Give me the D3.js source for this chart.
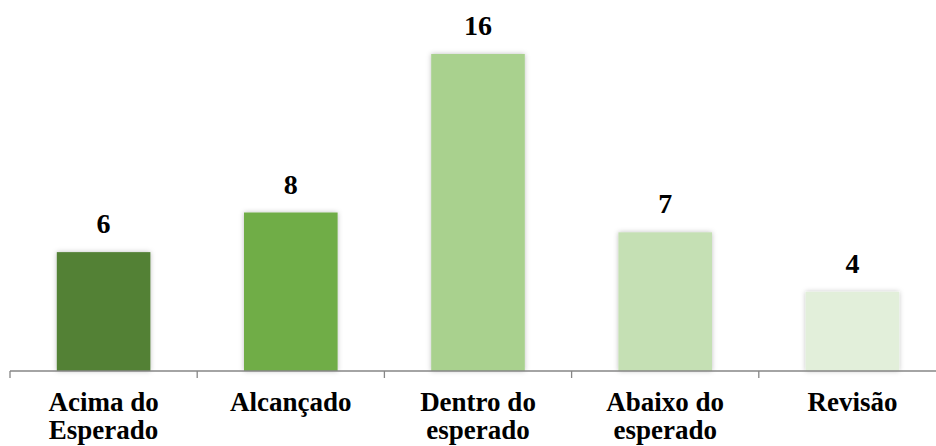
<!DOCTYPE html>
<html>
<head>
<meta charset="utf-8">
<script src="https://cdn.jsdelivr.net/npm/d3@7"></script>
<style>
  body { margin: 0; background: #fff; }
  svg { display: block; }
</style>
</head>
<body>
<script>
// chart data
const categories = ['Acima do|Esperado', 'Alcançado', 'Dentro do|esperado', 'Abaixo do|esperado', 'Revisão'];
const values = [6, 8, 16, 7, 4];
const colors = ['#538135', '#70ad47', '#a9d18e', '#c5e0b4', '#e2efda'];

const width = 936;
const height = 446;
const axisY = 371;
const serif = '"Liberation Serif", "Times New Roman", serif';

const svg = d3.select('body').append('svg')
  .attr('width', width)
  .attr('height', height);

// soft shadow like the office chart
const defs = svg.append('defs');
defs.append('filter')
  .attr('id', 'shadow')
  .attr('x', '-20%').attr('y', '-20%')
  .attr('width', '140%').attr('height', '140%')
  .append('feDropShadow')
  .attr('dx', 0).attr('dy', 0)
  .attr('stdDeviation', 2.5)
  .attr('flood-color', '#000')
  .attr('flood-opacity', 0.25);

const x = d3.scaleBand()
  .domain(categories)
  .range([10, 946])
  .paddingInner(0.5)
  .paddingOuter(0.25);

const y = d3.scaleLinear()
  .domain([0, 16])
  .range([axisY, 54]);

// bars
svg.selectAll('rect.bar')
  .data(values)
  .enter().append('rect')
  .attr('class', 'bar')
  .attr('x', (d, i) => x(categories[i]))
  .attr('width', x.bandwidth())
  .attr('y', d => y(d))
  .attr('height', d => axisY - y(d))
  .attr('fill', (d, i) => colors[i])
  .attr('filter', 'url(#shadow)');

// value labels
svg.selectAll('text.val')
  .data(values)
  .enter().append('text')
  .attr('class', 'val')
  .attr('x', (d, i) => x(categories[i]) + x.bandwidth() / 2)
  .attr('y', d => y(d) - 19)
  .attr('text-anchor', 'middle')
  .style('font-family', serif)
  .style('font-weight', 'bold')
  .style('font-size', '28px')
  .attr('fill', '#000')
  .text(d => d);

// axis line with tick marks between categories
const step = x.step();
const boundaries = d3.range(categories.length + 1).map(i => x(categories[0]) - step * 0.25 + i * step);

svg.append('line')
  .attr('x1', 10).attr('x2', width)
  .attr('y1', axisY).attr('y2', axisY)
  .attr('stroke', '#868686')
  .attr('stroke-width', 1.3);

svg.selectAll('line.tick')
  .data(boundaries)
  .enter().append('line')
  .attr('class', 'tick')
  .attr('x1', d => d).attr('x2', d => d)
  .attr('y1', axisY).attr('y2', axisY + 7)
  .attr('stroke', '#868686')
  .attr('stroke-width', 1.3);

// category labels (two lines where needed)
const labels = svg.selectAll('text.cat')
  .data(categories)
  .enter().append('text')
  .attr('class', 'cat')
  .attr('text-anchor', 'middle')
  .style('font-family', serif)
  .style('font-weight', 'bold')
  .style('font-size', '27px')
  .attr('fill', '#000')
  .attr('transform', d => `translate(${x(d) + x.bandwidth() / 2}, 411)`);

labels.selectAll('tspan')
  .data(d => d.split('|'))
  .enter().append('tspan')
  .attr('x', 0)
  .attr('y', (d, i) => i * 28)
  .text(d => d);
</script>
</body>
</html>
